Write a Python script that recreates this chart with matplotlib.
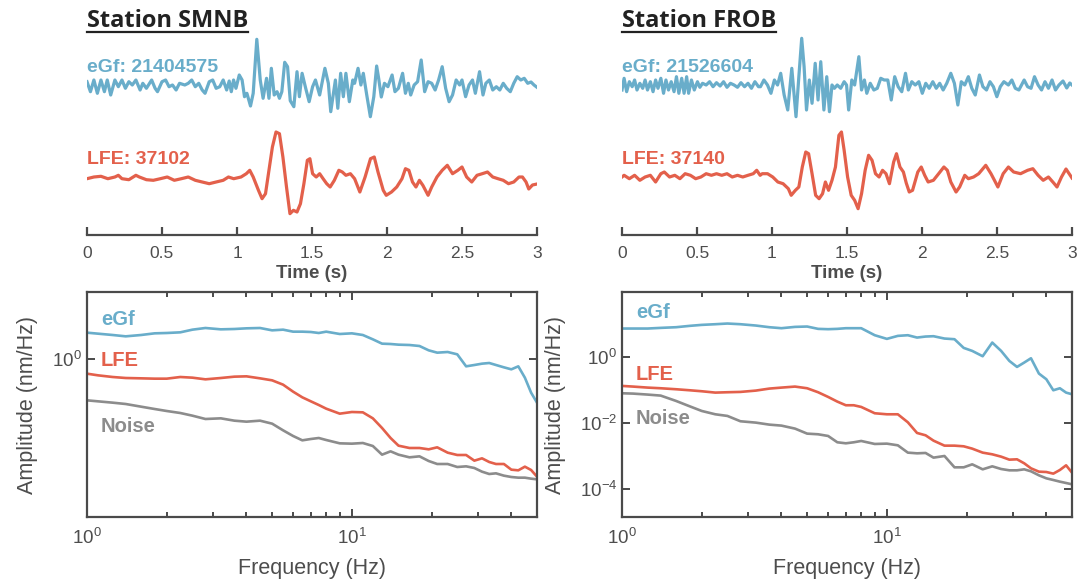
"""Waveforms and amplitude spectra of eGf / LFE events at two stations."""

import matplotlib

matplotlib.use("Agg")
import matplotlib.pyplot as plt
import numpy as np
from matplotlib.lines import Line2D
from matplotlib.ticker import LogLocator, NullLocator, NullFormatter

plt.rcParams["font.family"] = ["Liberation Sans", "DejaVu Sans"]

BLUE = "#69adca"
RED = "#e3604b"
GREY = "#8c8c8c"
AXC = "#4a4a4a"
TXT = "#4d4d4d"

# ---------------- waveforms (time in s, amplitude in arbitrary units) ----------------
smnb_egf_t = [0.000, 0.023, 0.046, 0.069, 0.093, 0.116, 0.135, 0.158, 0.186, 0.209,
              0.233, 0.256, 0.279, 0.302, 0.326, 0.354, 0.372, 0.396, 0.431, 0.454,
              0.470, 0.500, 0.524, 0.547, 0.570, 0.594, 0.617, 0.652, 0.675, 0.698,
              0.722, 0.745, 0.768, 0.787, 0.815, 0.838, 0.861, 0.885, 0.908, 0.931,
              0.948, 0.962, 0.977, 0.993, 1.015, 1.034, 1.050, 1.066, 1.090, 1.108,
              1.132, 1.155, 1.174, 1.197, 1.213, 1.229, 1.248, 1.267, 1.283, 1.299,
              1.318, 1.337, 1.355, 1.379, 1.400, 1.416, 1.434, 1.458, 1.481, 1.504,
              1.523, 1.551, 1.586, 1.609, 1.625, 1.656, 1.672, 1.691, 1.709, 1.726,
              1.749, 1.772, 1.784, 1.807, 1.826, 1.842, 1.865, 1.889, 1.912, 1.931,
              1.945, 1.962, 1.983, 2.006, 2.034, 2.053, 2.076, 2.104, 2.123, 2.142,
              2.158, 2.181, 2.204, 2.228, 2.251, 2.274, 2.298, 2.321, 2.344, 2.368,
              2.391, 2.414, 2.437, 2.461, 2.484, 2.500, 2.524, 2.547, 2.570, 2.589,
              2.617, 2.640, 2.659, 2.682, 2.705, 2.729, 2.752, 2.775, 2.798, 2.822,
              2.845, 2.868, 2.892, 2.915, 2.938, 2.960, 2.980, 3.000]
smnb_egf_a = [3.3, -6.7, 5, -8.3, 5, -6.7, 5, -10, 5, -1.7,
              5, -3.3, 3.3, 0, 5, -5, 1.7, -3.3, 5, -3.3,
              -6.7, 3.3, 5, -1.7, 0, -5, 1.7, 0, 1.7, 5,
              -1.7, 1.7, -5, -8.3, 3.3, 5, -3.3, -1.7, 5, -5,
              4, -6.7, 5, -3.3, 10, 5, -11.7, -8.3, -21, -8.3,
              45.7, 5, -13.3, 6.7, -13.3, 16.7, -10, -6.7, -13.3, -6.7,
              22.7, 18.3, -15.7, -21.7, 13.3, -11.7, 11.7, -3.3, -16.7, -1.7,
              5, -10, 16.7, 1.7, -26.7, 5, -23.3, 11.7, -11.7, 11.7,
              -16.7, 5, 1.7, 16.7, 0, 11.7, -10, -31.7, -11.7, 19,
              6, -12, 1.7, -1.7, 10, -6.7, -3.3, 11.7, -8.3, 1.7,
              -10, 0, 3.3, 25, -6.7, 3.3, 1.7, -5, 5, 18.3,
              -3.3, -16.7, -10, 5, 0, 5, -11.7, 0, 5, -8.3,
              13.3, -10, 1.7, 5, -5, -1.7, -5, 1.7, -3.3, -6.7,
              1.7, 8.3, 5, 6.7, 1.7, 3, 0, -2.3]

smnb_lfe_t = [0.000, 0.046, 0.093, 0.139, 0.186, 0.209, 0.233, 0.279, 0.326, 0.349,
              0.396, 0.442, 0.489, 0.535, 0.582, 0.629, 0.675, 0.722, 0.768, 0.815,
              0.861, 0.908, 0.943, 0.978, 1.027, 1.062, 1.085, 1.108, 1.143, 1.167,
              1.190, 1.213, 1.236, 1.260, 1.283, 1.306, 1.330, 1.353, 1.376, 1.400,
              1.423, 1.446, 1.469, 1.486, 1.504, 1.528, 1.551, 1.574, 1.598, 1.621,
              1.649, 1.679, 1.702, 1.726, 1.756, 1.784, 1.819, 1.854, 1.890, 1.915,
              1.940, 1.975, 1.995, 2.030, 2.065, 2.100, 2.123, 2.146, 2.170, 2.193,
              2.216, 2.239, 2.274, 2.298, 2.333, 2.368, 2.402, 2.437, 2.472, 2.500,
              2.531, 2.565, 2.600, 2.635, 2.670, 2.705, 2.740, 2.775, 2.810, 2.845,
              2.880, 2.903, 2.927, 2.945, 2.970, 3.000]
smnb_lfe_a = [-1.7, 0, 0.7, -1.7, 0, 1.7, -1.7, -2.7, 1.7, 0,
              -2.7, -3.3, -1.7, 0, -3.3, -1.7, 0, -3.3, -5, -6.7,
              -5, -3.3, 0, -1.7, 0, 3.3, 6.7, 0, -13.3, -21.7,
              -16.7, 6.7, 30, 45, 43.3, 20, -10, -36.7, -33.3, -35,
              -26.7, -6.7, 16.7, 18.3, 3.3, 0, 3.3, -1.7, -6.7, -10,
              -3.3, 6.7, 5, 1.7, 3.3, -1.7, -15, 0, 18.3, 20,
              5, -13.3, -18.3, -15, -10, -1.7, 8.3, 6.7, -5, -10,
              -3.3, -8.3, -18.3, -10, 0, 6.7, 11.7, 3.3, 6.7, 10,
              0, -5, 1.7, 3.3, 5, 0, -1.7, -3.3, -6.7, -5,
              0, 0, -5, -12, -8, -7]

frob_egf_t = [0.000, 0.014, 0.031, 0.049, 0.068, 0.084, 0.100, 0.119, 0.138, 0.154,
              0.170, 0.189, 0.207, 0.224, 0.240, 0.259, 0.277, 0.293, 0.310, 0.328,
              0.347, 0.363, 0.379, 0.398, 0.414, 0.431, 0.444, 0.463, 0.482, 0.503,
              0.519, 0.537, 0.561, 0.584, 0.607, 0.630, 0.654, 0.677, 0.700, 0.723,
              0.747, 0.770, 0.793, 0.817, 0.840, 0.863, 0.886, 0.910, 0.923, 0.946,
              0.970, 0.993, 1.016, 1.037, 1.058, 1.081, 1.105, 1.132, 1.160, 1.179,
              1.198, 1.214, 1.230, 1.249, 1.267, 1.288, 1.307, 1.325, 1.346, 1.365,
              1.383, 1.400, 1.416, 1.435, 1.458, 1.481, 1.497, 1.511, 1.532, 1.551,
              1.579, 1.597, 1.616, 1.632, 1.655, 1.679, 1.702, 1.725, 1.748, 1.772,
              1.795, 1.818, 1.841, 1.865, 1.890, 1.909, 1.932, 1.955, 1.979, 2.002,
              2.025, 2.048, 2.072, 2.095, 2.118, 2.141, 2.165, 2.192, 2.216, 2.239,
              2.262, 2.285, 2.309, 2.332, 2.355, 2.383, 2.406, 2.430, 2.453, 2.476,
              2.499, 2.522, 2.546, 2.576, 2.599, 2.622, 2.646, 2.681, 2.704, 2.727,
              2.750, 2.774, 2.797, 2.820, 2.843, 2.867, 2.890, 2.913, 2.940, 2.965,
              2.985, 3.000]
frob_egf_a = [-5, 6.7, -6.7, 3.3, -1.7, 5, -5, 1.7, -3.3, 5,
              -5, 3.3, -6.7, 5, -3.3, 6.7, -8.3, 5, -5, 3.3,
              -6.7, 8.3, -8.3, 6.7, -8.3, 8.3, -8.3, 5, -5, 3.3,
              -2.3, 1.7, 0, 3.3, -1.7, 2.3, -1, 3.3, -2.3, 1.7,
              0, -2.3, 2.3, -1.7, 1.7, -3.3, 3.3, -1.7, -1.7, 5,
              0, -8.3, 5, 0, 11.7, -10, -25, 16.7, -31.7, 8.3,
              46.7, 18.3, -25, 5, -18.3, 21.7, -15, 23.3, -25, 8.3,
              -26.7, 0, -3.3, 0, -3.3, 3.3, 0, -25, 5, 0,
              28.3, -5, 5, -8.3, 1.7, -5, -3.3, 6.7, 5, 5,
              -15, 8.3, -1.7, -6.7, 11.7, -5, 3.3, 0, 3.3, -8.3,
              1.7, -3.3, 3.3, -3.3, 1.7, -5, 1.7, 11.7, 1.7, -20,
              3.3, 0, 8.3, -3.3, -10, 10, -1.7, -5, 3.3, -1.7,
              -11.7, -1.7, 3.3, 0, 5, -3.3, -5, 5, -1.7, -3.3,
              8.3, 0, -5, 3.3, -3.3, 5, -5, 0, 4, -3,
              2, 0]

frob_lfe_t = [0.000, 0.014, 0.049, 0.084, 0.119, 0.154, 0.189, 0.224, 0.259, 0.282,
              0.317, 0.352, 0.386, 0.421, 0.456, 0.491, 0.526, 0.561, 0.596, 0.630,
              0.665, 0.700, 0.735, 0.770, 0.805, 0.840, 0.875, 0.898, 0.921, 0.935,
              0.970, 1.005, 1.039, 1.074, 1.109, 1.128, 1.156, 1.179, 1.202, 1.225,
              1.244, 1.267, 1.291, 1.314, 1.337, 1.356, 1.377, 1.400, 1.423, 1.446,
              1.463, 1.481, 1.504, 1.528, 1.551, 1.574, 1.597, 1.621, 1.644, 1.667,
              1.690, 1.714, 1.737, 1.760, 1.783, 1.811, 1.830, 1.853, 1.876, 1.895,
              1.915, 1.937, 1.972, 1.995, 2.018, 2.041, 2.076, 2.111, 2.146, 2.169,
              2.192, 2.227, 2.251, 2.285, 2.309, 2.344, 2.378, 2.425, 2.460, 2.483,
              2.506, 2.541, 2.576, 2.611, 2.657, 2.704, 2.739, 2.774, 2.808, 2.843,
              2.878, 2.900, 2.930, 2.960, 3.000]
frob_lfe_a = [0, 1.7, -1.7, 1.7, -3.3, 0, 1.7, -5, 3.3, 5,
              0, 1.7, -1.7, 3.3, 1.7, -1.7, 0, 3.3, 1.7, 3.3,
              1.7, 3.3, 0, 1.7, 0, 1.7, 3.3, 6.7, 1.7, 3.3,
              3.3, 0, -5, -6.7, -11.7, -18.3, -13.3, -10, 10, 25,
              23.3, 3.3, -18.3, -21.7, -16.7, -5, -13.3, -3.3, 10, 41.7,
              45, 26.7, 0, -18.3, -23.3, -31.7, -16.7, 6.7, 21.7, 16.7,
              3.3, 0, 6.7, 3.3, -6.7, 15, 23.3, 10, 5, -6,
              -15, -13.3, 5, 10, 1.7, -5, -3.3, 3.3, 10, 6.7,
              -5, -15, -10, 1.7, -1.7, 0, 3.3, 11.7, 3.3, -3.3,
              -10, 3.3, 10, 5, 3.3, 6.7, 8.3, 1.7, -3.3, 0,
              -6, -10, 0, 8, -1]

# ---------------- spectra: frequency (Hz) and log10 amplitude (nm/Hz) ----------------
freq = [1.0, 1.1, 1.25, 1.4, 1.6, 1.8, 2.0, 2.25, 2.5, 2.8,
        3.2, 3.6, 4.0, 4.5, 5.0, 5.5, 6.0, 6.5, 7.0, 7.5,
        8.0, 9.0, 10, 11, 12, 13, 14, 15, 16.5, 18,
        19.5, 21, 23, 25, 27, 29, 31, 33, 35, 37.5,
        40, 42.5, 45, 47.5, 50]

smnb_egf_spec = [0.312, 0.300, 0.284, 0.268, 0.284, 0.304, 0.308, 0.316, 0.348, 0.368,
                 0.352, 0.356, 0.364, 0.368, 0.340, 0.348, 0.324, 0.324, 0.320, 0.308,
                 0.324, 0.296, 0.304, 0.284, 0.232, 0.180, 0.176, 0.168, 0.164, 0.152,
                 0.100, 0.072, 0.080, 0.052, -0.092, -0.076, -0.060, -0.052, -0.076, -0.104,
                 -0.128, -0.092, -0.228, -0.408, -0.528]
smnb_lfe_spec = [-0.180, -0.200, -0.220, -0.232, -0.236, -0.240, -0.240, -0.220, -0.228, -0.248,
                 -0.232, -0.216, -0.212, -0.236, -0.260, -0.312, -0.396, -0.464, -0.512, -0.556,
                 -0.600, -0.660, -0.640, -0.644, -0.716, -0.832, -0.952, -1.044, -1.072, -1.072,
                 -1.088, -1.064, -1.128, -1.156, -1.156, -1.224, -1.196, -1.240, -1.264, -1.264,
                 -1.332, -1.340, -1.296, -1.336, -1.416]
smnb_noise_spec = [-0.500, -0.512, -0.528, -0.544, -0.576, -0.604, -0.628, -0.652, -0.684, -0.724,
                   -0.716, -0.744, -0.756, -0.744, -0.780, -0.860, -0.928, -0.980, -0.964, -0.952,
                   -0.976, -1.016, -1.020, -1.012, -1.048, -1.152, -1.112, -1.152, -1.184, -1.172,
                   -1.228, -1.264, -1.264, -1.300, -1.292, -1.312, -1.356, -1.384, -1.376, -1.404,
                   -1.420, -1.428, -1.428, -1.440, -1.448]

frob_egf_spec = [0.861, 0.861, 0.861, 0.881, 0.901, 0.942, 0.972, 0.992, 1.013, 0.992,
                 0.952, 0.901, 0.871, 0.911, 0.922, 0.851, 0.841, 0.851, 0.871, 0.871,
                 0.871, 0.658, 0.547, 0.638, 0.658, 0.587, 0.618, 0.628, 0.557, 0.537,
                 0.273, 0.182, 0.020, 0.435, 0.182, -0.122, -0.304, -0.172, -0.041, -0.506,
                 -0.678, -1.013, -0.952, -1.084, -1.134]
frob_lfe_spec = [-0.881, -0.901, -0.932, -0.952, -0.982, -1.013, -1.043, -1.084, -1.073, -1.063,
                 -1.023, -0.962, -0.932, -0.901, -0.952, -1.073, -1.215, -1.357, -1.468, -1.468,
                 -1.519, -1.711, -1.742, -1.742, -1.985, -2.309, -2.380, -2.542, -2.694, -2.694,
                 -2.714, -2.785, -2.906, -2.957, -3.028, -3.119, -3.109, -3.230, -3.382, -3.484,
                 -3.494, -3.544, -3.433, -3.291, -3.514]
frob_noise_spec = [-1.104, -1.114, -1.144, -1.175, -1.337, -1.499, -1.641, -1.742, -1.792, -1.954,
                   -1.995, -2.056, -2.086, -2.177, -2.329, -2.349, -2.400, -2.592, -2.623, -2.592,
                   -2.552, -2.643, -2.633, -2.684, -2.906, -2.927, -2.916, -3.058, -3.008, -3.352,
                   -3.352, -3.261, -3.413, -3.322, -3.403, -3.443, -3.443, -3.413, -3.473, -3.595,
                   -3.686, -3.737, -3.787, -3.828, -3.868]

stations = [
    {
        "name": "Station SMNB",
        "egf_label": "eGf: 21404575",
        "lfe_label": "LFE: 37102",
        "egf": (smnb_egf_t, smnb_egf_a),
        "lfe": (smnb_lfe_t, smnb_lfe_a),
        "spec": (smnb_egf_spec, smnb_lfe_spec, smnb_noise_spec),
        "spec_lab_y": (0.472, -0.016, -0.816),
        "ylim": (-1.9, 0.8),
        "yticks": [1e0],
        "left": 87,
    },
    {
        "name": "Station FROB",
        "egf_label": "eGf: 21526604",
        "lfe_label": "LFE: 37140",
        "egf": (frob_egf_t, frob_egf_a),
        "lfe": (frob_lfe_t, frob_lfe_a),
        "spec": (frob_egf_spec, frob_lfe_spec, frob_noise_spec),
        "spec_lab_y": (1.347, -0.547, -1.873),
        "ylim": (-4.86, 1.97),
        "yticks": [1e-4, 1e-2, 1e0],
        "left": 622,
    },
]

W, H = 1086, 579
fig = plt.figure(figsize=(W / 100, H / 100), dpi=100)


def fbox(x0, y0, x1, y1):
    """pixel box (top-left origin) -> figure fraction rect"""
    return [x0 / W, 1 - y1 / H, (x1 - x0) / W, (y1 - y0) / H]


titles = []
for st in stations:
    x0 = st["left"]
    x1 = x0 + 450

    # waveforms
    ax = fig.add_axes(fbox(x0, 30, x1, 235))
    ax.plot(st["egf"][0], np.array(st["egf"][1]) + 150, color=BLUE, lw=2.3,
            solid_joinstyle="round")
    ax.plot(st["lfe"][0], np.array(st["lfe"][1]) + 58, color=RED, lw=2.3,
            solid_joinstyle="round")
    ax.set_xlim(0, 3)
    ax.set_ylim(0, 205)
    for s in ("left", "right", "top"):
        ax.spines[s].set_visible(False)
    ax.spines["bottom"].set_color(AXC)
    ax.spines["bottom"].set_linewidth(1.6)
    ax.set_yticks([])
    ax.set_xticks([0, 0.5, 1, 1.5, 2, 2.5, 3])
    ax.set_xticklabels(["0", "0.5", "1", "1.5", "2", "2.5", "3"])
    ax.tick_params(axis="x", direction="in", length=6, width=1.6, color=AXC,
                   labelsize=12.5, labelcolor=TXT, pad=8)
    ax.set_xlabel("Time (s)", fontsize=13.5, fontweight="bold", color=TXT, labelpad=3)
    ax.text(0, 168, st["egf_label"], color=BLUE, fontsize=14, fontweight="bold",
            ha="left", va="center")
    ax.text(0, 76, st["lfe_label"], color=RED, fontsize=14, fontweight="bold",
            ha="left", va="center")

    t = fig.text(x0 / W, 1 - 21 / H, st["name"], fontsize=17, fontweight="bold",
                 family=["Open Sans", "DejaVu Sans"], color="#222222",
                 ha="left", va="center")
    titles.append(t)

    # spectra
    bx = fig.add_axes(fbox(x0, 292, x1, 517))
    egf_s, lfe_s, noise_s = st["spec"]
    bx.plot(freq, 10 ** np.array(egf_s), color=BLUE, lw=1.9)
    bx.plot(freq, 10 ** np.array(lfe_s), color=RED, lw=1.9)
    bx.plot(freq, 10 ** np.array(noise_s), color=GREY, lw=1.9)
    bx.set_xscale("log")
    bx.set_yscale("log")
    bx.set_xlim(1, 50)
    bx.set_ylim(10 ** st["ylim"][0], 10 ** st["ylim"][1])
    bx.set_yticks(st["yticks"])
    bx.yaxis.set_minor_locator(NullLocator())
    bx.yaxis.set_minor_formatter(NullFormatter())
    bx.xaxis.set_major_locator(LogLocator(base=10))
    for s in bx.spines.values():
        s.set_color(AXC)
        s.set_linewidth(1.6)
    bx.tick_params(which="both", direction="in", top=True, right=True, color=AXC,
                   width=1.4, labelcolor=TXT, labelsize=13.5)
    bx.tick_params(which="major", length=6)
    bx.tick_params(which="minor", length=3.5)
    bx.tick_params(axis="x", pad=8)
    bx.set_xlabel("Frequency (Hz)", fontsize=15.5, color=TXT, labelpad=7)
    bx.set_ylabel("Amplitude (nm/Hz)", fontsize=15.5, color=TXT, labelpad=10)
    for lab, col, ly in zip(("eGf", "LFE", "Noise"), (BLUE, RED, GREY), st["spec_lab_y"]):
        bx.text(1.13, 10 ** ly, lab, color=col, fontsize=14.5, fontweight="bold",
                ha="left", va="center")

# underline station titles
fig.canvas.draw()
renderer = fig.canvas.get_renderer()
for t in titles:
    bb = t.get_window_extent(renderer)
    y = 1 - 31.5 / H
    fig.add_artist(Line2D([bb.x0 / W, bb.x1 / W], [y, y], color="#222222", lw=1.6,
                          transform=fig.transFigure))

fig.savefig("out.png", dpi=100)
plt.close(fig)
